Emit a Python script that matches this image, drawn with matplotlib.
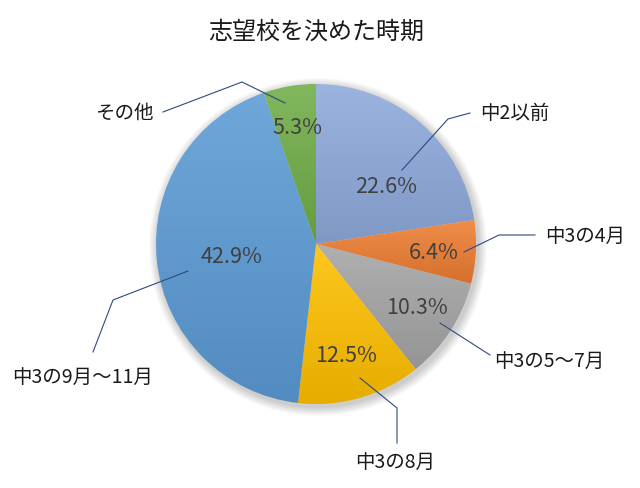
import numpy as np
import matplotlib
matplotlib.use("Agg")
import matplotlib.pyplot as plt
from matplotlib.patches import Circle
import matplotlib.colors as mcolors

plt.rcParams['font.family'] = ['Noto Sans CJK JP', 'DejaVu Sans']

title = "志望校を決めた時期"
categories = ["中2以前", "中3の4月", "中3の5～7月", "中3の8月", "中3の9月～11月", "その他"]
values = [22.6, 6.4, 10.3, 12.5, 42.9, 5.3]
colors = ["#8EA9DB", "#ED7D31", "#A5A5A5", "#FFC000", "#5B9BD5", "#70AD47"]

# layout (pixel coords, y from top)
W, H = 640, 488
center_px = (316, 244)
radius = 160
pct_pos = [(386, 187), (434, 253), (417, 308), (346, 356), (232, 257), (297, 128)]
label_pos = [(480, 113, 'left'), (545, 236, 'left'), (494, 361, 'left'),
             (355, 462, 'left'), (12, 377, 'left'), (154, 113, 'right')]
leaders = [
    [(402, 170), (448, 119), (470, 113)],
    [(464, 252), (499, 235), (535, 235)],
    [(440, 323), (490, 355)],
    [(360, 378), (397, 408), (397, 443)],
    [(188, 271), (113, 300), (93, 352)],
    [(285, 103), (242, 82), (163, 112)],
]

def fy(y):
    return H - y

fig = plt.figure(figsize=(6.4, 4.88), dpi=100)
ax = fig.add_axes([0, 0, 1, 1])
ax.set_xlim(0, W)
ax.set_ylim(0, H)
ax.axis('off')

cx, cy = center_px[0], fy(center_px[1])

# soft shadow
for i in range(10, 0, -1):
    ax.add_patch(Circle((cx + 2, cy - 3), radius + i * 0.9, color='black',
                        alpha=0.018, lw=0, zorder=0))

wedges, _ = ax.pie(values, startangle=90, counterclock=False, center=(cx, cy),
                   radius=radius, colors=colors,
                   wedgeprops=dict(linewidth=0, edgecolor='none'))
ax.set_xlim(0, W)
ax.set_ylim(0, H)
ax.set_aspect('equal')

# gradient fill per wedge
for w, c in zip(wedges, colors):
    base = np.array(mcolors.to_rgb(c))
    light = base + (1 - base) * 0.12
    dark = base * 0.9
    t = np.linspace(0, 1, 256)[:, None]
    grad = light[None, :] * (1 - t) + dark[None, :] * t
    img = np.repeat(grad[:, None, :], 2, axis=1)
    ext = w.get_path().get_extents(w.get_patch_transform())
    im = ax.imshow(img, extent=[ext.x0, ext.x1, ext.y0, ext.y1], origin='upper',
                   aspect='auto', zorder=2, interpolation='bilinear')
    im.set_clip_path(w)
    w.set_facecolor('none')

for (x, y), v in zip(pct_pos, values):
    ax.text(x, fy(y), f"{v:.1f}%", ha='center', va='center', fontsize=15.5,
            color='#404040', zorder=5)

for (x, y, ha), lab in zip(label_pos, categories):
    ax.text(x, fy(y), lab, ha=ha, va='center', fontsize=14, color='#1a1a1a', zorder=5)

for pts in leaders:
    xs = [p[0] for p in pts]
    ys = [fy(p[1]) for p in pts]
    ax.plot(xs, ys, color='#2E4A7D', lw=0.8, zorder=6)

ax.text(316, fy(32), title, ha='center', va='center', fontsize=17.3, color='#1a1a1a')

fig.savefig("out.png", dpi=100)
